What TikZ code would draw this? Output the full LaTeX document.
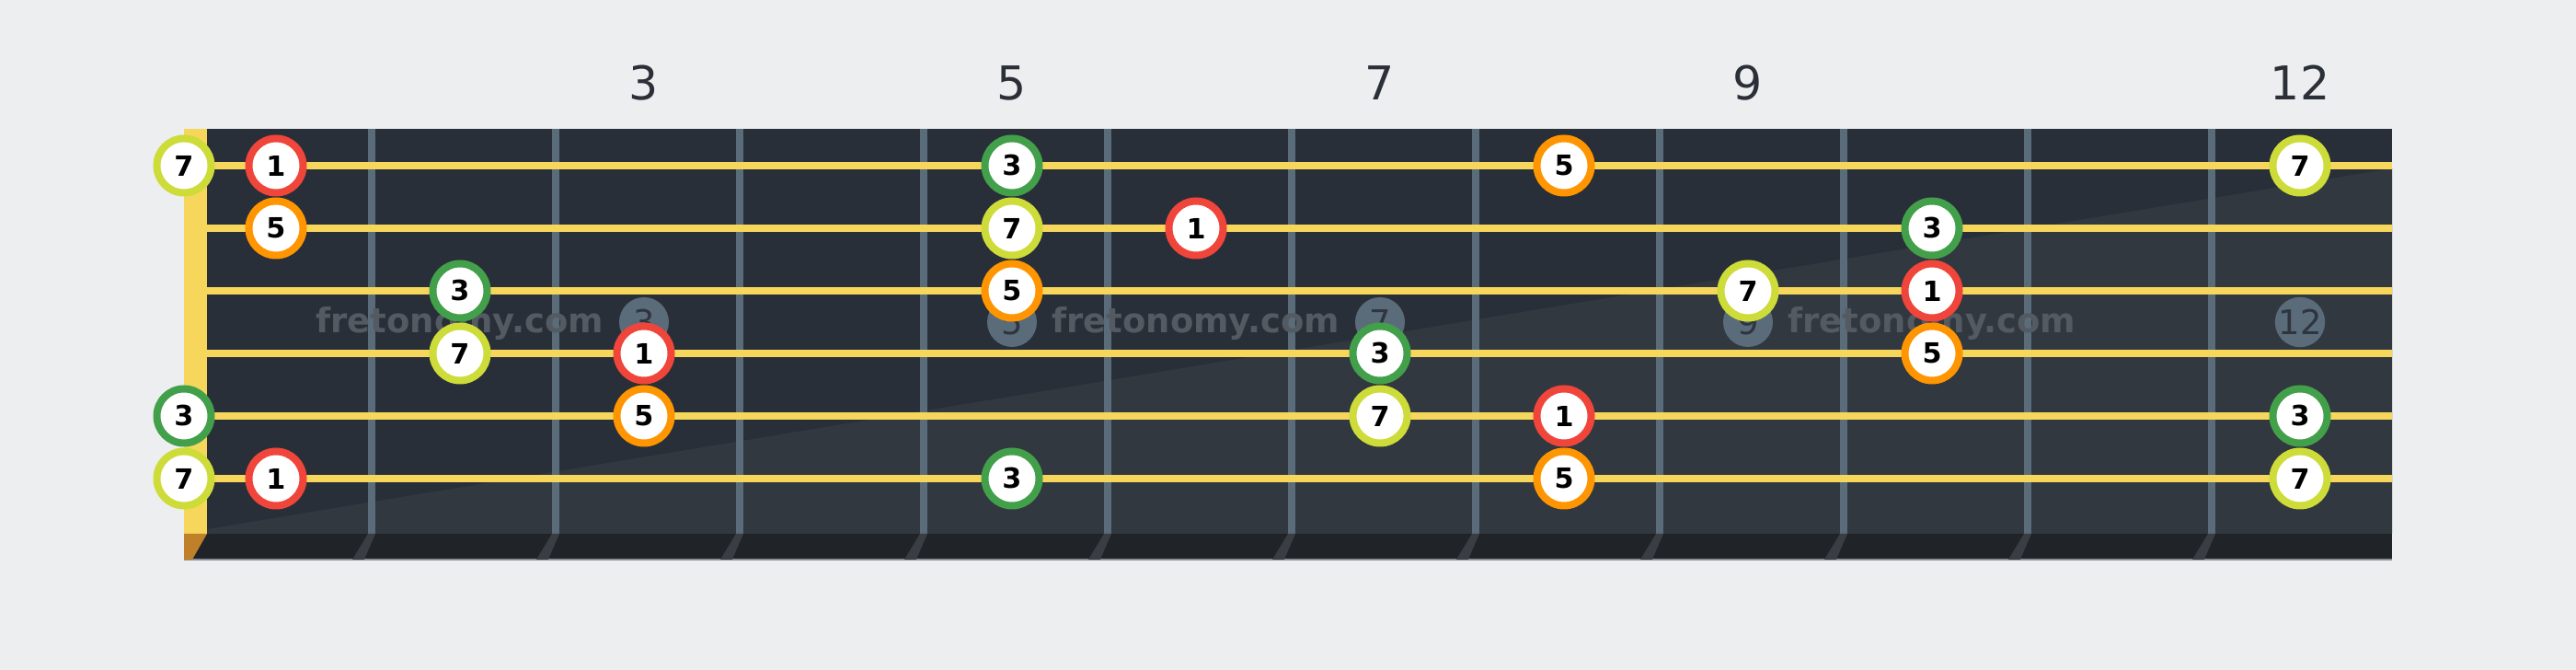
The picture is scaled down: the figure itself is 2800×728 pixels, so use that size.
\documentclass[tikz,border=0pt]{standalone}
\usepackage{fontspec}
\setmainfont{DejaVu Sans}
\definecolor{bgc}{HTML}{ECEEF0}
\definecolor{boardup}{HTML}{292F38}
\definecolor{boardlow}{HTML}{32383F}
\definecolor{stripc}{HTML}{202327}
\definecolor{edgec}{HTML}{8A9099}
\definecolor{fretc}{HTML}{5A6B7A}
\definecolor{fretsh}{HTML}{3A3E44}
\definecolor{stringc}{HTML}{F6D75C}
\definecolor{nutb}{HTML}{C0802A}
\definecolor{markc}{HTML}{5A6B7A}
\definecolor{marktext}{HTML}{2E353E}
\definecolor{wmc}{HTML}{545A62}
\definecolor{labc}{HTML}{2B3038}
\definecolor{cred}{HTML}{F0453A}
\definecolor{corange}{HTML}{FF9500}
\definecolor{cgreen}{HTML}{43A04A}
\definecolor{clime}{HTML}{CDDC39}
\tikzset{
  note/.style={circle, draw=#1, fill=white, line width=0.8mm, minimum size=5.9mm, inner sep=0pt,
    font=\bfseries\fontsize{8.6pt}{8.6pt}\selectfont, text=black},
  marker/.style={circle, fill=markc, minimum size=5.4mm, inner sep=0pt,
    font=\fontsize{10.5pt}{10.5pt}\selectfont, text=marktext},
  watermark/.style={inner sep=0pt, anchor=base, font=\bfseries\fontsize{10.5pt}{10.5pt}\selectfont, text=wmc},
  fretlabel/.style={inner sep=0pt, font=\fontsize{14.4pt}{14.4pt}\selectfont, text=labc}
}
\begin{document}
\begin{tikzpicture}[x=0.1mm,y=-0.1mm]
\fill[bgc] (0,0) rectangle (2800,728);
\useasboundingbox (0,0) rectangle (2800,728);
% board
\fill[boardup] (225,140) rectangle (2600,580);
\fill[boardlow] (225,575) -- (2600,183) -- (2600,580) -- (225,580) -- cycle;
\fill[stripc] (200,580) rectangle (2600,608);
\fill[edgec] (200,607) rectangle (2600,609);
% nut
\fill[stringc] (200,140) rectangle (225,580);
\fill[nutb] (200,580) -- (225,580) -- (209,608) -- (200,608) -- cycle;
% frets
\foreach \x in {404,604,...,2404} {
  \fill[fretc] (\x-4,140) rectangle (\x+4,580);
  \fill[fretsh] (\x-4,580) -- (\x+4,580) -- (\x-8,608) -- (\x-21,608) -- cycle;
}
% inlay markers
\foreach \x/\l in {700/3,1100/5,1500/7,1900/9,2500/12}
  \node[marker] (m\l) at (\x,350) {\l};
% watermarks
\node[watermark] (w1) at (500,362) {fretonomy.com};
\node[watermark] (w2) at (1300,362) {fretonomy.com};
\node[watermark] (w3) at (2100,362) {fretonomy.com};
% strings
\foreach \y in {180,248,316,384,452,520}
  \fill[stringc] (225,\y-4) rectangle (2600,\y+4);
% fret numbers
\foreach \x/\l in {700/3,1100/5,1500/7,1900/9,2500/12}
  \node[fretlabel] (l\l) at (\x,90) {\l};
% notes: string 1
\node[note=clime]   (a0)  at (200,180) {7};
\node[note=cred]    (a1)  at (300,180) {1};
\node[note=cgreen]  (a5)  at (1100,180) {3};
\node[note=corange] (a8)  at (1700,180) {5};
\node[note=clime]   (a12) at (2500,180) {7};
% string 2
\node[note=corange] (b1)  at (300,248) {5};
\node[note=clime]   (b5)  at (1100,248) {7};
\node[note=cred]    (b6)  at (1300,248) {1};
\node[note=cgreen]  (b10) at (2100,248) {3};
% string 3
\node[note=cgreen]  (c2)  at (500,316) {3};
\node[note=corange] (c5)  at (1100,316) {5};
\node[note=clime]   (c9)  at (1900,316) {7};
\node[note=cred]    (c10) at (2100,316) {1};
% string 4
\node[note=clime]   (d2)  at (500,384) {7};
\node[note=cred]    (d3)  at (700,384) {1};
\node[note=cgreen]  (d7)  at (1500,384) {3};
\node[note=corange] (d10) at (2100,384) {5};
% string 5
\node[note=cgreen]  (e0)  at (200,452) {3};
\node[note=corange] (e3)  at (700,452) {5};
\node[note=clime]   (e7)  at (1500,452) {7};
\node[note=cred]    (e8)  at (1700,452) {1};
\node[note=cgreen]  (e12) at (2500,452) {3};
% string 6
\node[note=clime]   (f0)  at (200,520) {7};
\node[note=cred]    (f1)  at (300,520) {1};
\node[note=cgreen]  (f5)  at (1100,520) {3};
\node[note=corange] (f8)  at (1700,520) {5};
\node[note=clime]   (f12) at (2500,520) {7};
\end{tikzpicture}
\end{document}
